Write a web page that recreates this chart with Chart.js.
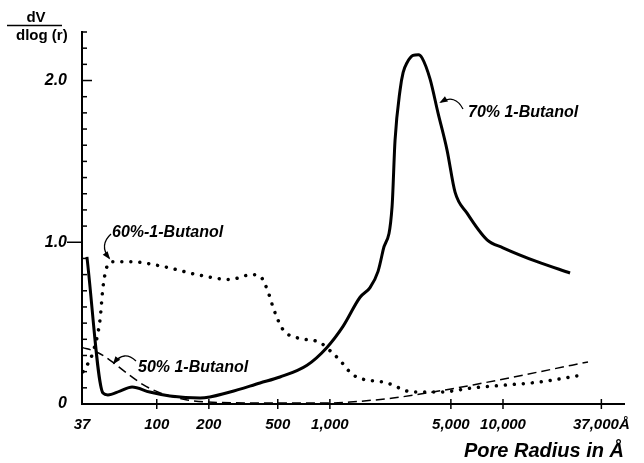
<!DOCTYPE html>
<html>
<head>
<meta charset="utf-8">
<script src="https://cdn.jsdelivr.net/npm/chart.js@4/dist/chart.umd.min.js"></script>
<style>
  html, body { margin: 0; padding: 0; background: #fff; }
  canvas { display: block; }
</style>
</head>
<body>
<canvas id="c" width="644" height="463"></canvas>
<script>
// ---- data (pore radius in Å, dV/dlog(r)) ----
const r70 = [39.5, 48.9, 52.2, 61.3, 72, 91, 119, 178, 265, 395, 515, 738, 962, 1191, 1494, 1706, 1898, 2028, 2287, 2379, 2543, 2650, 2790, 3022, 3250, 3407, 3788, 4213, 4751, 5285, 6199, 8090, 10000, 15740, 24400];
const v70 = [0.91, 0.068, 0.056, 0.08, 0.105, 0.074, 0.05, 0.037, 0.074, 0.13, 0.167, 0.24, 0.35, 0.48, 0.66, 0.72, 0.82, 0.95, 1.22, 1.63, 1.94, 2.05, 2.11, 2.155, 2.16, 2.14, 2.01, 1.80, 1.57, 1.31, 1.18, 1.015, 0.966, 0.88, 0.81];

const r60 = [37.5, 42.8, 47, 48.9, 51.6, 55.8, 70, 109, 171, 265, 355, 395, 451, 469, 536, 645, 877, 1002, 1144, 1360, 2138, 3022, 4327, 6714, 10550, 16370, 28980];
const v60 = [0.20, 0.32, 0.52, 0.72, 0.85, 0.88, 0.88, 0.85, 0.80, 0.77, 0.80, 0.79, 0.66, 0.60, 0.46, 0.41, 0.38, 0.33, 0.27, 0.18, 0.13, 0.074, 0.074, 0.10, 0.118, 0.136, 0.18];

const r50 = [37, 45.2, 53.8, 67.3, 83.3, 104, 150, 195, 515, 1002, 1307, 2317, 3641, 6714, 16370, 30970];
const v50 = [0.35, 0.32, 0.27, 0.19, 0.12, 0.07, 0.025, 0.012, 0.006, 0.006, 0.012, 0.037, 0.068, 0.118, 0.20, 0.26];

const xTickValues = [37, 100, 200, 500, 1000, 5000, 10000, 37000];
const xTickLabels = ['37', '100', '200', '500', '1,000', '5,000', '10,000', '37,000Å'];
const yMajorValues = [0, 1, 2];
const yMajorLabels = ['0', '1.0', '2.0'];
const seriesLabels = ['70% 1-Butanol', '60%-1-Butanol', '50% 1-Butanol'];
const xTitle = 'Pore Radius in Å';
const yTitleTop = 'dV';
const yTitleBottom = 'dlog (r)';

const pts = (xs, ys) => xs.map((x, i) => ({ x: x, y: ys[i] }));
const FONT = '"Liberation Sans", Arial, Helvetica, sans-serif';

const decorPlugin = {
  id: 'decor',
  afterDraw(chart) {
    const ctx = chart.ctx;
    const xs = chart.scales.x, ys = chart.scales.y;
    const x0 = xs.left, y0 = ys.bottom;
    ctx.save();
    ctx.strokeStyle = '#000';
    ctx.fillStyle = '#000';
    // y ticks (inward minor ticks)
    ctx.lineWidth = 1.5;
    ys.ticks.forEach(t => {
      const p = ys.getPixelForValue(t.value);
      if (t.value === 0) return;
      ctx.beginPath();
      if (Math.abs(t.value - 1) < 1e-6) { ctx.moveTo(x0 - 15, p); ctx.lineTo(x0, p); }
      else if (Math.abs(t.value - 2) < 1e-6) { ctx.moveTo(x0, p); ctx.lineTo(x0 + 10, p); }
      else { ctx.moveTo(x0, p); ctx.lineTo(x0 + 5, p); }
      ctx.stroke();
    });
    // x ticks (crossing)
    xs.ticks.forEach(t => {
      if (t.value === xTickValues[0]) return;
      const p = xs.getPixelForValue(t.value);
      ctx.beginPath(); ctx.moveTo(p, y0 - 5); ctx.lineTo(p, y0 + 5); ctx.stroke();
    });
    // y title as fraction
    ctx.font = 'bold 15px ' + FONT;
    ctx.textAlign = 'center'; ctx.textBaseline = 'alphabetic';
    ctx.fillText(yTitleTop, 36, 22);
    ctx.lineWidth = 1.5;
    ctx.beginPath(); ctx.moveTo(7, 25.5); ctx.lineTo(62, 25.5); ctx.stroke();
    ctx.textAlign = 'left';
    ctx.fillText(yTitleBottom, 16, 40);

    // annotations
    ctx.font = 'bold italic 16px ' + FONT;
    ctx.textAlign = 'left';
    ctx.fillText(seriesLabels[0], 468, 117);
    ctx.fillText(seriesLabels[1], 112, 237);
    ctx.fillText(seriesLabels[2], 138, 372);

    function arrow(sx, sy, cx, cy, ex, ey) {
      ctx.lineWidth = 1.3;
      ctx.beginPath(); ctx.moveTo(sx, sy); ctx.quadraticCurveTo(cx, cy, ex, ey); ctx.stroke();
      const ang = Math.atan2(ey - cy, ex - cx);
      const L = 7, W = 0.45;
      ctx.beginPath();
      ctx.moveTo(ex + 2 * Math.cos(ang), ey + 2 * Math.sin(ang));
      ctx.lineTo(ex - L * Math.cos(ang - W), ey - L * Math.sin(ang - W));
      ctx.lineTo(ex - L * Math.cos(ang + W), ey - L * Math.sin(ang + W));
      ctx.closePath(); ctx.fill();
    }
    arrow(463, 109, 455, 94, 441, 102);
    arrow(111, 234, 99, 245, 109, 258);
    arrow(136, 361, 124, 350, 114, 363);
    ctx.restore();
  }
};

new Chart(document.getElementById('c'), {
  type: 'line',
  data: {
    datasets: [
      { label: seriesLabels[0], data: pts(r70, v70), borderColor: '#000', borderWidth: 3,
        pointRadius: 0, cubicInterpolationMode: 'monotone', fill: false },
      { label: seriesLabels[1], data: pts(r60, v60), borderColor: '#000', borderWidth: 3.5,
        borderDash: [0.01, 9], borderCapStyle: 'round',
        pointRadius: 0, cubicInterpolationMode: 'monotone', fill: false },
      { label: seriesLabels[2], data: pts(r50, v50), borderColor: '#000', borderWidth: 1.5,
        borderDash: [9, 5],
        pointRadius: 0, cubicInterpolationMode: 'monotone', fill: false }
    ]
  },
  options: {
    responsive: false,
    animation: false,
    devicePixelRatio: 1,
    layout: { padding: { top: 32, right: 20, left: 0, bottom: 0 } },
    plugins: { legend: { display: false }, tooltip: { enabled: false } },
    scales: {
      x: {
        type: 'logarithmic',
        min: 37, max: 50000,
        afterBuildTicks: s => { s.ticks = xTickValues.map(v => ({ value: v })); },
        afterFit: s => { s.height = 59; },
        grid: { display: false, drawTicks: false },
        border: { display: true, color: '#000', width: 2 },
        ticks: {
          autoSkip: false, maxRotation: 0, padding: 12, color: '#000',
          font: { family: FONT, size: 15, weight: 'bold', style: 'italic' },
          callback: (v, i) => xTickLabels[i]
        },
        title: {
          display: true, text: xTitle, align: 'end', color: '#000',
          font: { family: FONT, size: 20, weight: 'bold', style: 'italic' },
          padding: { top: 0, bottom: 0 }
        }
      },
      y: {
        type: 'linear',
        min: 0, max: 2.3,
        afterBuildTicks: s => {
          const t = [];
          for (let k = 0; k <= 23; k++) t.push({ value: k / 10 });
          s.ticks = t;
        },
        afterFit: s => { s.width = 82; },
        grid: { display: false, drawTicks: false },
        border: { display: true, color: '#000', width: 2 },
        ticks: {
          autoSkip: false, padding: 15, color: '#000',
          font: { family: FONT, size: 16, weight: 'bold', style: 'italic' },
          callback: v => {
            const i = yMajorValues.findIndex(m => Math.abs(m - v) < 1e-6);
            return i >= 0 ? yMajorLabels[i] : '';
          }
        }
      }
    }
  },
  plugins: [decorPlugin]
});
</script>
</body>
</html>
